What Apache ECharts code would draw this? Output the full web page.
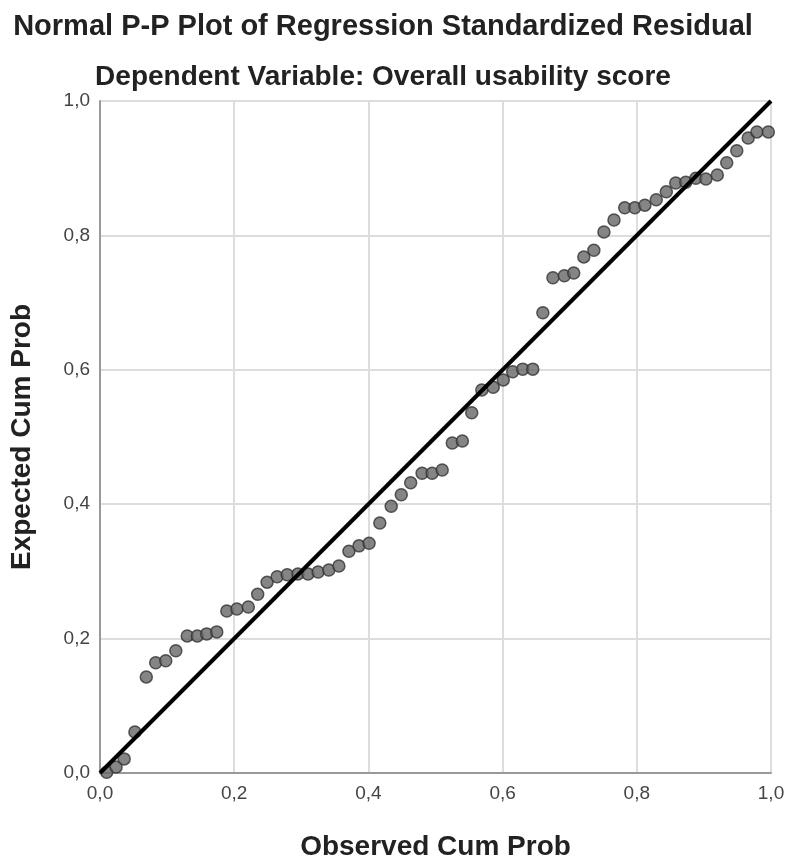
<!DOCTYPE html>
<html>
<head>
<meta charset="utf-8">
<script src="https://cdn.jsdelivr.net/npm/echarts@6/dist/echarts.min.js"></script>
<style>
  html, body { margin: 0; padding: 0; background: #fff; }
  #chart { width: 790px; height: 863px; }
</style>
</head>
<body>
<div id="chart"></div>
<script>
// observed cum prob (x) and expected cum prob (y)
var observed = [
  0.010, 0.024, 0.036, 0.052, 0.069, 0.083, 0.098, 0.113, 0.130, 0.145,
  0.159, 0.174, 0.189, 0.204, 0.221, 0.235, 0.249, 0.264, 0.279, 0.295,
  0.310, 0.325, 0.341, 0.356, 0.371, 0.386, 0.401, 0.417, 0.434, 0.449,
  0.463, 0.480, 0.495, 0.510, 0.525, 0.540, 0.554, 0.569, 0.586, 0.601,
  0.615, 0.630, 0.645, 0.660, 0.675, 0.692, 0.706, 0.721, 0.736, 0.751,
  0.766, 0.782, 0.797, 0.812, 0.829, 0.844, 0.858, 0.873, 0.888, 0.903,
  0.920, 0.934, 0.949, 0.966, 0.979, 0.996
];
var expected = [
  0.001, 0.009, 0.021, 0.061, 0.143, 0.164, 0.167, 0.182, 0.204, 0.204,
  0.207, 0.210, 0.241, 0.244, 0.247, 0.266, 0.284, 0.292, 0.295, 0.296,
  0.296, 0.299, 0.302, 0.308, 0.330, 0.338, 0.342, 0.372, 0.397, 0.414,
  0.432, 0.446, 0.446, 0.451, 0.491, 0.494, 0.536, 0.570, 0.574, 0.585,
  0.597, 0.601, 0.601, 0.685, 0.737, 0.740, 0.744, 0.768, 0.778, 0.805,
  0.823, 0.841, 0.841, 0.845, 0.853, 0.865, 0.878, 0.879, 0.885, 0.884,
  0.890, 0.908, 0.926, 0.945, 0.954, 0.954
];
var refLine = [[0, 0], [1, 1]];

var chart = echarts.init(document.getElementById("chart"));

function commaLabel(v) {
  return v.toFixed(1).replace(".", ",");
}

var points = observed.map(function (x, i) {
  return [x, expected[i]];
});

chart.setOption({
  animation: false,
  backgroundColor: "#fff",
  textStyle: { fontFamily: "Liberation Sans, Arial, sans-serif" },
  title: [
    {
      text: "Normal P-P Plot of Regression Standardized Residual",
      left: 378,
      top: 7,
      textAlign: "center",
      textStyle: { fontSize: 29, fontWeight: "bold", color: "#222" }
    },
    {
      text: "Dependent Variable: Overall usability score",
      left: 378,
      top: 58,
      textAlign: "center",
      textStyle: { fontSize: 28, fontWeight: "bold", color: "#222" }
    }
  ],
  grid: {
    left: 100,
    right: 19,
    top: 101,
    bottom: 90,
    outerBoundsMode: "none"
  },
  xAxis: {
    type: "value",
    min: 0,
    max: 1,
    interval: 0.2,
    name: "Observed Cum Prob",
    nameLocation: "middle",
    nameGap: 60,
    nameTextStyle: { fontSize: 28, fontWeight: "bold", color: "#222" },
    axisLine: { show: true, lineStyle: { color: "#999", width: 2 } },
    axisTick: { show: false },
    axisLabel: { formatter: commaLabel, fontSize: 19, color: "#444", margin: 11 },
    splitLine: { show: true, lineStyle: { color: "#ddd", width: 2 } }
  },
  yAxis: {
    type: "value",
    min: 0,
    max: 1,
    interval: 0.2,
    name: "Expected Cum Prob",
    nameLocation: "middle",
    nameGap: 64,
    nameTextStyle: { fontSize: 28, fontWeight: "bold", color: "#222" },
    axisLine: { show: true, lineStyle: { color: "#999", width: 2 } },
    axisTick: { show: false },
    axisLabel: { formatter: commaLabel, fontSize: 19, color: "#444", margin: 10 },
    splitLine: { show: true, lineStyle: { color: "#ddd", width: 2 } }
  },
  series: [
    {
      type: "scatter",
      data: points,
      symbolSize: 12,
      itemStyle: { color: "#666", borderColor: "#333", borderWidth: 1.5 },
      z: 2
    },
    {
      type: "line",
      data: refLine,
      symbol: "none",
      lineStyle: { color: "#000", width: 4 },
      z: 3
    }
  ]
});
</script>
</body>
</html>
